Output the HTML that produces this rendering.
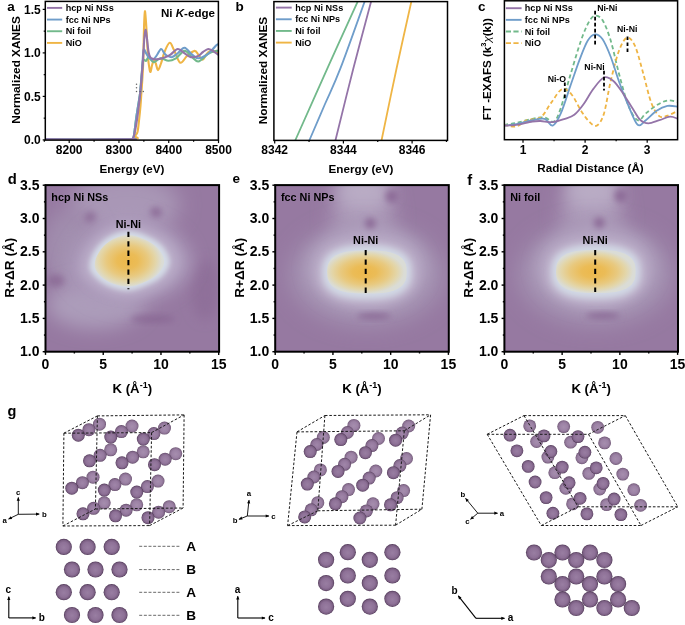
<!DOCTYPE html>
<html><head><meta charset="utf-8"><style>html,body{margin:0;padding:0;background:#fff;width:685px;height:625px;overflow:hidden}svg{display:block;will-change:transform;font-family:"Liberation Sans",sans-serif}</style></head>
<body><svg width="685" height="625" viewBox="0 0 685 625" font-family="'Liberation Sans', sans-serif" font-weight="bold"><defs>
<radialGradient id="sg" cx="0.5" cy="0.5" r="0.5" fx="0.5" fy="0.54">
 <stop offset="0" stop-color="#997ea2"/><stop offset="0.6" stop-color="#8e7197"/><stop offset="0.85" stop-color="#7a5e82"/><stop offset="0.95" stop-color="#5c4363"/><stop offset="1" stop-color="#503858"/></radialGradient>
<radialGradient id="sg1" cx="0.5" cy="0.5" r="0.5" fx="0.5" fy="0.54">
 <stop offset="0" stop-color="#a086a9"/><stop offset="0.6" stop-color="#95799e"/><stop offset="0.85" stop-color="#82678a"/><stop offset="0.95" stop-color="#684f6f"/><stop offset="1" stop-color="#5c4463"/></radialGradient>
<radialGradient id="sg2" cx="0.5" cy="0.5" r="0.5" fx="0.5" fy="0.54">
 <stop offset="0" stop-color="#a68eae"/><stop offset="0.6" stop-color="#9c82a5"/><stop offset="0.85" stop-color="#8a7091"/><stop offset="0.95" stop-color="#735a7a"/><stop offset="1" stop-color="#674f6e"/></radialGradient>
<radialGradient id="yg" cx="0.47" cy="0.5" r="0.5"><stop offset="0" stop-color="#ecb84b"/><stop offset="0.3" stop-color="#ebbc57"/><stop offset="0.6" stop-color="#e8c97f"/><stop offset="0.82" stop-color="#e3d6aa"/><stop offset="1" stop-color="#dadcd6"/></radialGradient>
<clipPath id="clipa"><rect x="45.3" y="1.4" width="173.1" height="138.7"/></clipPath>
<clipPath id="clipb"><rect x="273.9" y="1.6" width="173.6" height="138.8"/></clipPath>
<clipPath id="clipc"><rect x="504.4" y="0.8" width="173.2" height="138.9"/></clipPath>
<clipPath id="cliph0"><rect x="45.5" y="184.8" width="173.6" height="166.7"/></clipPath>
<clipPath id="cliph1"><rect x="275.2" y="184.8" width="173.6" height="166.7"/></clipPath>
<clipPath id="cliph2"><rect x="504.4" y="184.8" width="173.6" height="166.7"/></clipPath>
<filter id="b8" x="-50%" y="-50%" width="200%" height="200%"><feGaussianBlur stdDeviation="8"/></filter>
<filter id="b5" x="-50%" y="-50%" width="200%" height="200%"><feGaussianBlur stdDeviation="5"/></filter>
<filter id="b3" x="-50%" y="-50%" width="200%" height="200%"><feGaussianBlur stdDeviation="3"/></filter>
<filter id="b7" x="-50%" y="-50%" width="200%" height="200%"><feGaussianBlur stdDeviation="7"/></filter><filter id="b12" x="-50%" y="-50%" width="200%" height="200%"><feGaussianBlur stdDeviation="12"/></filter><filter id="b14" x="-50%" y="-50%" width="200%" height="200%"><feGaussianBlur stdDeviation="14"/></filter><filter id="b10" x="-50%" y="-50%" width="200%" height="200%"><feGaussianBlur stdDeviation="10"/></filter><filter id="b9" x="-50%" y="-50%" width="200%" height="200%"><feGaussianBlur stdDeviation="9"/></filter><filter id="b6" x="-50%" y="-50%" width="200%" height="200%"><feGaussianBlur stdDeviation="6"/></filter><filter id="b4" x="-50%" y="-50%" width="200%" height="200%"><feGaussianBlur stdDeviation="4"/></filter><filter id="b2.5" x="-50%" y="-50%" width="200%" height="200%"><feGaussianBlur stdDeviation="2.5"/></filter><g id="heat0"><ellipse cx="125" cy="205" rx="55" ry="30" fill="#a997b6" filter="url(#b10)" opacity="1"/><ellipse cx="70" cy="250" rx="28" ry="40" fill="#a18eae" filter="url(#b10)" opacity="1"/><ellipse cx="95" cy="305" rx="48" ry="24" fill="#ac9cba" filter="url(#b9)" opacity="1"/><ellipse cx="155.8" cy="212.9" rx="6" ry="6" fill="#8c6b97" filter="url(#b3)" opacity="1"/><ellipse cx="90.4" cy="217.8" rx="6" ry="6" fill="#8f6f9a" filter="url(#b3)" opacity="1"/><ellipse cx="56" cy="280.5" rx="9" ry="6" fill="#8e6e99" filter="url(#b3)" opacity="1"/><ellipse cx="153" cy="319" rx="22" ry="4" fill="#8b6a96" filter="url(#b3)" opacity="1"/><ellipse cx="205" cy="290" rx="14" ry="30" fill="#8f6f9a" filter="url(#b6)" opacity="1"/><path d="M128.0,214.2 C137.3,214.2 148.1,218.1 156.9,221.9 C165.7,225.7 174.8,230.7 180.7,237.2 C186.6,243.7 192.3,253.3 192.6,261.0 C192.9,268.6 187.8,277.0 182.4,283.1 C177.0,289.2 169.4,293.6 160.3,297.6 C151.2,301.5 139.1,306.8 128.0,306.9 C117.0,307.0 103.3,302.9 94.0,298.4 C84.7,293.9 76.0,285.9 71.9,279.7 C67.8,273.5 67.9,267.8 69.3,261.0 C70.8,254.2 75.2,245.4 80.4,238.9 C85.6,232.4 92.9,226.0 100.8,221.9 C108.7,217.8 118.7,214.2 128.0,214.2Z" fill="#ab9aba" filter="url(#b8)" opacity="1"/><path d="M128.0,223.9 C135.4,223.9 144.0,226.9 150.9,229.9 C157.9,233.0 165.1,236.9 169.8,242.1 C174.6,247.3 179.1,254.9 179.3,261.0 C179.5,267.1 175.5,273.7 171.2,278.6 C166.9,283.4 160.8,286.9 153.7,290.0 C146.5,293.2 136.8,297.3 128.0,297.4 C119.2,297.6 108.4,294.3 101.0,290.7 C93.6,287.1 86.7,280.8 83.4,275.9 C80.2,270.9 80.3,266.4 81.4,261.0 C82.5,255.6 86.0,248.6 90.2,243.4 C94.4,238.3 100.1,233.2 106.4,229.9 C112.7,226.7 120.6,223.9 128.0,223.9Z" fill="#b9abc7" filter="url(#b5)" opacity="1"/><path d="M128.0,230.8 C134.1,230.8 141.0,233.2 146.7,235.7 C152.4,238.2 158.2,241.4 162.1,245.6 C165.9,249.8 169.6,256.1 169.8,261.0 C170.0,265.9 166.7,271.4 163.2,275.3 C159.7,279.2 154.8,282.1 148.9,284.6 C143.0,287.2 135.2,290.6 128.0,290.7 C120.8,290.8 112.0,288.1 106.0,285.2 C100.0,282.3 94.4,277.1 91.7,273.1 C89.0,269.1 89.1,265.4 90.0,261.0 C91.0,256.6 93.8,250.9 97.2,246.7 C100.6,242.5 105.3,238.4 110.4,235.7 C115.5,233.0 122.0,230.8 128.0,230.8Z" fill="#d4dbe6" filter="url(#b2.5)" opacity="1"/><path d="M128.0,234.9 C133.2,234.9 139.2,237.0 144.2,239.2 C149.1,241.3 154.1,244.1 157.4,247.7 C160.8,251.3 163.9,256.7 164.1,261.0 C164.3,265.3 161.4,269.9 158.4,273.4 C155.4,276.8 151.1,279.2 146.1,281.4 C141.0,283.6 134.2,286.6 128.0,286.6 C121.8,286.7 114.2,284.4 109.0,281.9 C103.8,279.4 98.9,274.9 96.7,271.4 C94.4,268.0 94.4,264.8 95.2,261.0 C96.0,257.2 98.5,252.3 101.4,248.7 C104.3,245.0 108.4,241.4 112.8,239.2 C117.2,236.9 122.8,234.9 128.0,234.9Z" fill="url(#yg)" filter="url(#b2.2)" opacity="1"/></g><g id="heat1"><ellipse cx="362.9" cy="216.8" rx="30" ry="52" fill="#ad9cba" filter="url(#b10)" opacity="1"/><ellipse cx="363.9" cy="191.8" rx="26" ry="16" fill="#b9acc5" filter="url(#b8)" opacity="1"/><ellipse cx="366.9" cy="274.8" rx="78" ry="52" fill="#a390b0" filter="url(#b10)" opacity="1"/><ellipse cx="366.9" cy="268.8" rx="60" ry="42" fill="#b3a4c1" filter="url(#b7)" opacity="1"/><ellipse cx="370.4" cy="223.3" rx="5.5" ry="5.5" fill="#8c6b97" filter="url(#b3)" opacity="1"/><ellipse cx="391.9" cy="196.3" rx="6.5" ry="6.5" fill="#8d6c98" filter="url(#b3)" opacity="1"/><ellipse cx="373.9" cy="316.3" rx="17" ry="3.2" fill="#8b6a96" filter="url(#b3)" opacity="1"/><path d="M416.9,272.3 L416.5,278.2 L415.5,282.7 L413.7,286.7 L411.3,290.3 L408.1,293.5 L404.4,296.3 L400.0,298.7 L395.0,300.7 L389.4,302.3 L383.1,303.4 L376.1,304.1 L366.9,304.3 L357.7,304.1 L350.7,303.4 L344.4,302.3 L338.8,300.7 L333.8,298.7 L329.4,296.3 L325.7,293.5 L322.5,290.3 L320.1,286.7 L318.3,282.7 L317.3,278.2 L316.9,272.3 L317.3,266.4 L318.3,261.9 L320.1,257.9 L322.5,254.3 L325.7,251.1 L329.4,248.3 L333.8,245.9 L338.8,243.9 L344.4,242.3 L350.7,241.2 L357.7,240.5 L366.9,240.3 L376.1,240.5 L383.1,241.2 L389.4,242.3 L395.0,243.9 L400.0,245.9 L404.4,248.3 L408.1,251.1 L411.3,254.3 L413.7,257.9 L415.5,261.9 L416.5,266.4Z" fill="#bfb3cc" filter="url(#b4)" opacity="1"/><path d="M411.4,272.3 L411.1,277.6 L410.2,281.5 L408.7,284.8 L406.6,287.8 L403.9,290.5 L400.6,292.8 L396.8,294.7 L392.5,296.4 L387.5,297.6 L382.0,298.6 L375.6,299.1 L366.9,299.3 L358.2,299.1 L351.8,298.6 L346.3,297.6 L341.3,296.4 L337.0,294.7 L333.2,292.8 L329.9,290.5 L327.2,287.8 L325.1,284.8 L323.6,281.5 L322.7,277.6 L322.4,272.3 L322.7,267.0 L323.6,263.1 L325.1,259.8 L327.2,256.8 L329.9,254.1 L333.2,251.8 L337.0,249.9 L341.3,248.2 L346.3,247.0 L351.8,246.0 L358.2,245.5 L366.9,245.3 L375.6,245.5 L382.0,246.0 L387.5,247.0 L392.5,248.2 L396.8,249.9 L400.6,251.8 L403.9,254.1 L406.6,256.8 L408.7,259.8 L410.2,263.1 L411.1,267.0Z" fill="#d2d9e5" filter="url(#b3)" opacity="1"/><path d="M406.7,272.0 L406.4,276.8 L405.7,279.9 L404.4,282.6 L402.7,284.9 L400.4,287.0 L397.7,288.7 L394.5,290.2 L390.7,291.4 L386.4,292.4 L381.5,293.1 L375.7,293.5 L366.9,293.6 L358.1,293.5 L352.3,293.1 L347.4,292.4 L343.1,291.4 L339.3,290.2 L336.1,288.7 L333.4,287.0 L331.1,284.9 L329.4,282.6 L328.1,279.9 L327.4,276.8 L327.1,272.0 L327.4,267.2 L328.1,264.1 L329.4,261.4 L331.1,259.1 L333.4,257.0 L336.1,255.3 L339.3,253.8 L343.1,252.6 L347.4,251.6 L352.3,250.9 L358.1,250.5 L366.9,250.4 L375.7,250.5 L381.5,250.9 L386.4,251.6 L390.7,252.6 L394.5,253.8 L397.7,255.3 L400.4,257.0 L402.7,259.1 L404.4,261.4 L405.7,264.1 L406.4,267.2Z" fill="url(#yg)" filter="url(#b2.2)" opacity="1"/></g><g id="heat2"><ellipse cx="591.8" cy="216.3" rx="30" ry="52" fill="#ad9cba" filter="url(#b10)" opacity="1"/><ellipse cx="592.8" cy="191.3" rx="26" ry="16" fill="#b9acc5" filter="url(#b8)" opacity="1"/><ellipse cx="595.8" cy="274.3" rx="78" ry="52" fill="#a390b0" filter="url(#b10)" opacity="1"/><ellipse cx="595.8" cy="268.3" rx="60" ry="42" fill="#b3a4c1" filter="url(#b7)" opacity="1"/><ellipse cx="599.3" cy="222.8" rx="5.5" ry="5.5" fill="#8c6b97" filter="url(#b3)" opacity="1"/><ellipse cx="620.8" cy="195.8" rx="6.5" ry="6.5" fill="#8d6c98" filter="url(#b3)" opacity="1"/><ellipse cx="602.8" cy="315.8" rx="17" ry="3.2" fill="#8b6a96" filter="url(#b3)" opacity="1"/><path d="M645.8,271.8 L645.4,277.7 L644.4,282.2 L642.6,286.2 L640.2,289.8 L637.0,293.0 L633.3,295.8 L628.9,298.2 L623.9,300.2 L618.3,301.8 L612.0,302.9 L605.0,303.6 L595.8,303.8 L586.6,303.6 L579.6,302.9 L573.3,301.8 L567.7,300.2 L562.7,298.2 L558.3,295.8 L554.6,293.0 L551.4,289.8 L549.0,286.2 L547.2,282.2 L546.2,277.7 L545.8,271.8 L546.2,265.9 L547.2,261.4 L549.0,257.4 L551.4,253.8 L554.6,250.6 L558.3,247.8 L562.7,245.4 L567.7,243.4 L573.3,241.8 L579.6,240.7 L586.6,240.0 L595.8,239.8 L605.0,240.0 L612.0,240.7 L618.3,241.8 L623.9,243.4 L628.9,245.4 L633.3,247.8 L637.0,250.6 L640.2,253.8 L642.6,257.4 L644.4,261.4 L645.4,265.9Z" fill="#bfb3cc" filter="url(#b4)" opacity="1"/><path d="M640.3,271.8 L640.0,277.1 L639.1,281.0 L637.6,284.3 L635.5,287.3 L632.8,290.0 L629.5,292.3 L625.7,294.2 L621.4,295.9 L616.4,297.1 L610.9,298.1 L604.5,298.6 L595.8,298.8 L587.1,298.6 L580.7,298.1 L575.2,297.1 L570.2,295.9 L565.9,294.2 L562.1,292.3 L558.8,290.0 L556.1,287.3 L554.0,284.3 L552.5,281.0 L551.6,277.1 L551.3,271.8 L551.6,266.5 L552.5,262.6 L554.0,259.3 L556.1,256.3 L558.8,253.6 L562.1,251.3 L565.9,249.4 L570.2,247.7 L575.2,246.5 L580.7,245.5 L587.1,245.0 L595.8,244.8 L604.5,245.0 L610.9,245.5 L616.4,246.5 L621.4,247.7 L625.7,249.4 L629.5,251.3 L632.8,253.6 L635.5,256.3 L637.6,259.3 L639.1,262.6 L640.0,266.5Z" fill="#d2d9e5" filter="url(#b3)" opacity="1"/><path d="M635.6,271.5 L635.3,276.3 L634.6,279.4 L633.3,282.1 L631.6,284.4 L629.3,286.5 L626.6,288.2 L623.4,289.7 L619.6,290.9 L615.3,291.9 L610.4,292.6 L604.6,293.0 L595.8,293.1 L587.0,293.0 L581.2,292.6 L576.3,291.9 L572.0,290.9 L568.2,289.7 L565.0,288.2 L562.3,286.5 L560.0,284.4 L558.3,282.1 L557.0,279.4 L556.3,276.3 L556.0,271.5 L556.3,266.7 L557.0,263.6 L558.3,260.9 L560.0,258.6 L562.3,256.5 L565.0,254.8 L568.2,253.3 L572.0,252.1 L576.3,251.1 L581.2,250.4 L587.0,250.0 L595.8,249.9 L604.6,250.0 L610.4,250.4 L615.3,251.1 L619.6,252.1 L623.4,253.3 L626.6,254.8 L629.3,256.5 L631.6,258.6 L633.3,260.9 L634.6,263.6 L635.3,266.7Z" fill="url(#yg)" filter="url(#b2.2)" opacity="1"/></g></defs><rect width="685" height="625" fill="#fff"/><g clip-path="url(#clipa)">
<path d="M45.0,139.4 C59.2,139.4 115.0,140.0 130.0,139.4 C145.0,138.8 133.6,137.2 134.8,136.0 C136.1,134.8 136.8,134.9 137.5,132.1 C138.2,129.3 138.7,123.4 139.2,119.0 C139.7,114.6 140.1,110.3 140.5,105.9 C140.9,101.5 141.0,98.3 141.4,92.8 C141.8,87.3 142.4,78.6 142.7,73.1 C143.0,67.6 143.1,68.0 143.3,60.0 C143.5,52.0 143.8,33.1 144.1,25.0 C144.4,16.9 144.6,11.7 144.9,11.2 C145.2,10.7 145.7,18.0 146.0,22.0 C146.3,26.0 146.5,29.1 146.8,35.0 C147.1,40.9 147.6,51.8 148.0,57.1 C148.4,62.4 148.8,64.5 149.2,67.0 C149.6,69.5 150.0,72.3 150.5,72.0 C151.0,71.7 151.5,67.0 152.1,65.0 C152.7,63.0 153.2,60.5 153.8,60.2 C154.4,60.0 155.1,61.9 155.8,63.5 C156.5,65.2 157.1,70.1 158.0,70.1 C158.9,70.1 159.9,66.5 161.0,63.5 C162.1,60.5 163.1,55.5 164.5,52.0 C165.9,48.5 168.1,43.1 169.7,42.8 C171.3,42.5 172.2,46.7 174.0,50.0 C175.8,53.3 178.1,61.7 180.3,62.7 C182.5,63.7 184.6,58.0 187.0,56.0 C189.4,54.0 192.7,51.1 194.6,50.9 C196.5,50.7 197.2,53.5 198.5,55.0 C199.8,56.5 201.3,59.6 202.6,59.6 C203.8,59.6 204.9,56.4 206.0,55.0 C207.1,53.6 208.2,52.2 209.4,51.5 C210.6,50.8 211.5,50.8 213.0,51.0 C214.5,51.2 217.6,52.7 218.5,53.0" fill="none" stroke="#efb545" stroke-width="2.1" stroke-linejoin="round"/>
<path d="M45.0,139.4 C58.8,139.4 113.3,139.6 128.0,139.4 C142.7,139.2 131.8,139.6 132.9,138.4 C134.0,137.2 133.9,135.3 134.4,132.1 C134.9,128.9 135.5,123.4 136.1,119.0 C136.7,114.6 137.4,110.3 138.1,105.9 C138.8,101.5 139.5,98.3 140.1,92.8 C140.7,87.3 141.3,78.4 141.8,73.1 C142.3,67.8 142.6,63.2 142.9,61.0 C143.2,58.8 143.1,59.6 143.7,59.6 C144.2,59.6 145.4,61.2 146.2,60.8 C147.0,60.4 147.4,56.9 148.6,57.1 C149.8,57.3 151.6,61.9 153.6,62.1 C155.6,62.3 157.9,58.5 160.4,58.3 C162.9,58.1 165.9,60.8 168.5,60.8 C171.1,60.8 173.2,59.9 175.9,58.3 C178.6,56.6 181.9,51.1 184.6,50.9 C187.3,50.7 189.8,55.3 192.1,57.1 C194.4,58.9 195.8,61.9 198.3,61.5 C200.8,61.1 204.7,56.2 207.0,54.6 C209.3,53.0 210.1,52.7 212.0,52.0 C213.9,51.3 217.4,50.8 218.5,50.5" fill="none" stroke="#72b98b" stroke-width="2.1" stroke-linejoin="round"/>
<path d="M45.0,139.4 C58.8,139.4 113.3,139.6 128.0,139.4 C142.7,139.2 131.8,139.6 132.9,138.4 C134.0,137.2 133.9,135.3 134.4,132.1 C134.9,128.9 135.5,123.4 136.1,119.0 C136.7,114.6 137.4,110.3 138.1,105.9 C138.8,101.5 139.5,98.3 140.1,92.8 C140.7,87.3 141.4,78.6 141.8,73.1 C142.2,67.6 142.4,63.9 142.7,60.0 C143.0,56.1 143.1,50.8 143.7,49.7 C144.3,48.6 145.4,52.2 146.2,53.4 C147.0,54.6 147.5,56.1 148.6,57.1 C149.7,58.1 151.6,60.0 153.0,59.6 C154.4,59.2 155.7,56.8 157.0,55.0 C158.3,53.2 159.8,49.2 161.1,49.0 C162.3,48.8 163.5,52.4 164.5,53.5 C165.5,54.6 166.0,55.3 167.3,55.9 C168.6,56.5 170.4,57.6 172.2,57.1 C174.0,56.6 175.9,54.5 178.0,53.0 C180.1,51.5 182.2,47.5 184.6,47.8 C186.9,48.1 189.8,52.9 192.1,54.6 C194.4,56.4 195.8,58.3 198.3,58.3 C200.8,58.3 204.7,56.0 207.0,54.6 C209.3,53.2 210.4,51.5 212.0,50.0 C213.6,48.5 215.2,46.3 216.3,45.3 C217.4,44.3 218.1,44.2 218.5,44.0" fill="none" stroke="#6f9dca" stroke-width="2.1" stroke-linejoin="round"/>
<path d="M45.0,139.4 C58.8,139.4 113.3,139.6 128.0,139.4 C142.7,139.2 131.8,139.6 132.9,138.4 C134.0,137.2 134.1,135.3 134.8,132.1 C135.5,128.9 136.4,123.4 137.1,119.0 C137.8,114.6 138.3,110.3 138.8,105.9 C139.3,101.5 139.8,98.3 140.3,92.8 C140.8,87.3 141.6,78.6 142.0,73.1 C142.4,67.6 142.6,65.5 143.0,60.0 C143.4,54.5 143.8,45.0 144.2,40.0 C144.6,35.0 145.1,30.1 145.5,29.8 C145.9,29.5 146.4,34.3 146.9,38.0 C147.4,41.7 148.0,49.0 148.6,52.2 C149.2,55.5 149.7,56.4 150.5,57.5 C151.3,58.6 152.5,58.7 153.6,59.0 C154.7,59.3 155.6,59.4 157.0,59.3 C158.4,59.2 160.2,59.0 162.3,58.3 C164.4,57.6 167.1,56.8 169.7,55.2 C172.3,53.7 175.3,49.3 177.8,49.0 C180.3,48.7 182.4,52.0 184.6,53.4 C186.8,54.8 188.5,56.7 190.8,57.1 C193.1,57.5 196.3,56.8 198.3,55.9 C200.3,55.0 201.3,53.1 203.0,52.0 C204.7,50.9 206.5,49.2 208.2,49.0 C209.9,48.8 211.3,50.0 213.0,51.0 C214.7,52.0 217.6,54.3 218.5,55.0" fill="none" stroke="#9474a8" stroke-width="2.1" stroke-linejoin="round"/>
</g>
<circle cx="136.5" cy="84.2" r="0.75" fill="#666"/>
<circle cx="136.5" cy="87.8" r="0.75" fill="#666"/>
<circle cx="136.5" cy="91.5" r="0.75" fill="#666"/>
<circle cx="140.1" cy="91.5" r="0.75" fill="#666"/>
<circle cx="143.3" cy="91.5" r="0.75" fill="#666"/>
<rect x="45.3" y="1.4" width="173.10000000000002" height="138.7" fill="none" stroke="#000" stroke-width="1.5"/>
<line x1="42.699999999999996" y1="139.9" x2="45.3" y2="139.9" stroke="#000" stroke-width="1.2" />
<line x1="43.699999999999996" y1="118.15" x2="45.3" y2="118.15" stroke="#000" stroke-width="1.2" />
<line x1="42.699999999999996" y1="96.4" x2="45.3" y2="96.4" stroke="#000" stroke-width="1.2" />
<line x1="43.699999999999996" y1="74.65" x2="45.3" y2="74.65" stroke="#000" stroke-width="1.2" />
<line x1="42.699999999999996" y1="52.900000000000006" x2="45.3" y2="52.900000000000006" stroke="#000" stroke-width="1.2" />
<line x1="43.699999999999996" y1="31.150000000000006" x2="45.3" y2="31.150000000000006" stroke="#000" stroke-width="1.2" />
<line x1="42.699999999999996" y1="9.400000000000006" x2="45.3" y2="9.400000000000006" stroke="#000" stroke-width="1.2" />
<text x="40.8" y="144.1" font-size="12" text-anchor="end" >0.0</text>
<text x="40.8" y="100.60000000000001" font-size="12" text-anchor="end" >0.5</text>
<text x="40.8" y="57.10000000000001" font-size="12" text-anchor="end" >1.0</text>
<text x="40.8" y="13.600000000000005" font-size="12" text-anchor="end" >1.5</text>
<line x1="44.315000000000005" y1="140.1" x2="44.315000000000005" y2="141.7" stroke="#000" stroke-width="1.2" />
<line x1="69.2" y1="140.1" x2="69.2" y2="143.1" stroke="#000" stroke-width="1.2" />
<line x1="94.08500000000001" y1="140.1" x2="94.08500000000001" y2="141.7" stroke="#000" stroke-width="1.2" />
<line x1="118.97" y1="140.1" x2="118.97" y2="143.1" stroke="#000" stroke-width="1.2" />
<line x1="143.85500000000002" y1="140.1" x2="143.85500000000002" y2="141.7" stroke="#000" stroke-width="1.2" />
<line x1="168.74" y1="140.1" x2="168.74" y2="143.1" stroke="#000" stroke-width="1.2" />
<line x1="193.625" y1="140.1" x2="193.625" y2="141.7" stroke="#000" stroke-width="1.2" />
<line x1="218.51" y1="140.1" x2="218.51" y2="143.1" stroke="#000" stroke-width="1.2" />
<text x="69.2" y="154.3" font-size="12" text-anchor="middle" >8200</text>
<text x="118.97" y="154.3" font-size="12" text-anchor="middle" >8300</text>
<text x="168.74" y="154.3" font-size="12" text-anchor="middle" >8400</text>
<text x="218.51" y="154.3" font-size="12" text-anchor="middle" >8500</text>
<text x="132" y="173.3" font-size="11.7" text-anchor="middle" >Energy (eV)</text>
<text transform="translate(20.3,70) rotate(-90)" font-size="11.8" text-anchor="middle">Normalized XANES</text>
<line x1="47" y1="7.9" x2="62.2" y2="7.9" stroke="#9474a8" stroke-width="1.9" />
<text x="65.7" y="11.100000000000001" font-size="9.1" text-anchor="start" >hcp Ni NSs</text>
<line x1="47" y1="19.57" x2="62.2" y2="19.57" stroke="#6f9dca" stroke-width="1.9" />
<text x="65.7" y="22.77" font-size="9.1" text-anchor="start" >fcc Ni NPs</text>
<line x1="47" y1="31.240000000000002" x2="62.2" y2="31.240000000000002" stroke="#72b98b" stroke-width="1.9" />
<text x="65.7" y="34.440000000000005" font-size="9.1" text-anchor="start" >Ni foil</text>
<line x1="47" y1="42.91" x2="62.2" y2="42.91" stroke="#efb545" stroke-width="1.9" />
<text x="65.7" y="46.11" font-size="9.1" text-anchor="start" >NiO</text>
<text x="215" y="17" font-size="11.6" text-anchor="end">Ni <tspan font-style="italic">K</tspan>-edge</text>
<g clip-path="url(#clipb)">
<path d="M295.2,140.5 C300.6,128.4 317.0,91.6 327.5,68.2 C338.0,44.8 353.2,11.4 358.4,0.0" fill="none" stroke="#72b98b" stroke-width="1.8" stroke-linejoin="round"/>
<path d="M309.3,140.5 C311.9,134.4 319.8,116.0 325.0,104.0 C330.2,92.0 333.8,85.5 340.5,68.2 C347.2,50.9 361.1,11.4 365.2,0.0" fill="none" stroke="#6f9dca" stroke-width="1.8" stroke-linejoin="round"/>
<path d="M335.4,140.5 C338.4,128.4 347.4,91.6 353.4,68.2 C359.4,44.8 368.5,11.4 371.5,0.0" fill="none" stroke="#9474a8" stroke-width="1.8" stroke-linejoin="round"/>
<path d="M381.5,140.5 C384.0,128.4 391.6,91.6 396.6,68.2 C401.6,44.8 409.2,11.4 411.7,0.0" fill="none" stroke="#efb545" stroke-width="1.8" stroke-linejoin="round"/>
</g>
<rect x="273.9" y="1.6" width="173.60000000000002" height="138.8" fill="none" stroke="#000" stroke-width="1.5"/>
<line x1="274.7" y1="140.4" x2="274.7" y2="143.4" stroke="#000" stroke-width="1.2" />
<line x1="309.05" y1="140.4" x2="309.05" y2="142.0" stroke="#000" stroke-width="1.2" />
<line x1="343.4" y1="140.4" x2="343.4" y2="143.4" stroke="#000" stroke-width="1.2" />
<line x1="377.75" y1="140.4" x2="377.75" y2="142.0" stroke="#000" stroke-width="1.2" />
<line x1="412.1" y1="140.4" x2="412.1" y2="143.4" stroke="#000" stroke-width="1.2" />
<line x1="446.45" y1="140.4" x2="446.45" y2="142.0" stroke="#000" stroke-width="1.2" />
<text x="274.7" y="154.3" font-size="12" text-anchor="middle" >8342</text>
<text x="343.4" y="154.3" font-size="12" text-anchor="middle" >8344</text>
<text x="412.1" y="154.3" font-size="12" text-anchor="middle" >8346</text>
<text x="361" y="173.3" font-size="11.7" text-anchor="middle" >Energy (eV)</text>
<text transform="translate(266.6,70.6) rotate(-90)" font-size="11.8" text-anchor="middle">Normalized XANES</text>
<line x1="275.9" y1="7.6" x2="291.7" y2="7.6" stroke="#9474a8" stroke-width="1.9" />
<text x="295.2" y="10.8" font-size="9.1" text-anchor="start" >hcp Ni NSs</text>
<line x1="275.9" y1="19.27" x2="291.7" y2="19.27" stroke="#6f9dca" stroke-width="1.9" />
<text x="295.2" y="22.47" font-size="9.1" text-anchor="start" >fcc Ni NPs</text>
<line x1="275.9" y1="30.939999999999998" x2="291.7" y2="30.939999999999998" stroke="#72b98b" stroke-width="1.9" />
<text x="295.2" y="34.14" font-size="9.1" text-anchor="start" >Ni foil</text>
<line x1="275.9" y1="42.61" x2="291.7" y2="42.61" stroke="#efb545" stroke-width="1.9" />
<text x="295.2" y="45.81" font-size="9.1" text-anchor="start" >NiO</text>
<g clip-path="url(#clipc)">
<path d="M504.0,124.8 C506.0,124.5 511.5,123.9 516.2,122.9 C520.9,121.9 527.7,119.7 532.4,118.8 C537.1,117.9 541.0,117.0 544.6,117.5 C548.2,118.0 551.3,123.1 554.0,121.5 C556.7,119.9 558.1,115.7 560.8,108.0 C563.5,100.3 566.8,86.8 570.2,75.6 C573.6,64.3 577.9,49.5 581.0,40.5 C584.1,31.5 586.8,25.7 589.1,21.6 C591.5,17.5 592.9,15.9 595.1,15.7 C597.4,15.5 600.0,16.2 602.6,20.3 C605.2,24.4 608.0,31.7 610.7,40.5 C613.4,49.3 615.9,62.1 618.8,72.9 C621.7,83.7 625.1,97.4 628.3,105.3 C631.4,113.2 634.8,118.8 637.7,120.2 C640.6,121.6 642.6,115.9 645.8,113.4 C648.9,110.9 653.0,107.5 656.6,105.3 C660.2,103.1 663.8,101.0 667.4,100.5 C671.0,100.0 676.2,101.8 678.0,102.1" fill="none" stroke="#72b98b" stroke-width="1.8" stroke-linejoin="round" stroke-dasharray="4.2,2.8"/>
<path d="M504.0,124.8 C506.0,125.1 512.4,127.2 516.2,126.4 C520.0,125.6 523.0,121.7 527.0,120.2 C531.0,118.7 536.5,120.4 540.5,117.5 C544.5,114.6 547.7,107.3 551.3,102.6 C554.9,97.9 558.7,90.4 562.1,89.1 C565.5,87.8 568.5,90.9 571.6,94.5 C574.8,98.1 578.1,106.2 581.0,110.7 C583.9,115.2 586.5,119.0 589.1,121.5 C591.7,124.0 594.2,126.9 596.7,125.6 C599.2,124.2 601.7,120.8 604.0,113.4 C606.3,106.0 608.2,91.3 610.7,81.0 C613.2,70.7 616.1,58.5 618.8,51.3 C621.5,44.1 624.2,38.7 626.9,37.8 C629.6,36.9 632.3,40.0 635.0,45.9 C637.7,51.8 640.4,63.5 643.1,72.9 C645.8,82.4 648.5,95.4 651.2,102.6 C653.9,109.8 656.6,113.9 659.3,116.1 C662.0,118.3 664.3,116.5 667.4,115.6 C670.5,114.7 676.2,111.5 678.0,110.7" fill="none" stroke="#efb545" stroke-width="1.8" stroke-linejoin="round" stroke-dasharray="4.2,2.8"/>
<path d="M504.0,125.6 C506.0,125.4 511.5,125.1 516.2,124.2 C520.9,123.3 527.7,121.1 532.4,120.2 C537.1,119.3 541.2,117.9 544.6,118.8 C548.0,119.7 550.0,126.5 552.7,125.6 C555.4,124.7 557.9,119.9 560.8,113.4 C563.7,106.9 567.1,95.4 570.2,86.4 C573.4,77.4 576.8,67.0 579.7,59.4 C582.6,51.8 585.2,44.7 587.8,40.5 C590.4,36.3 592.6,34.5 595.1,34.3 C597.6,34.1 600.0,35.5 602.6,39.2 C605.2,42.9 608.0,49.7 610.7,56.7 C613.4,63.7 615.9,72.9 618.8,81.0 C621.7,89.1 625.1,98.0 628.3,105.3 C631.4,112.6 634.8,122.3 637.7,124.8 C640.6,127.3 642.6,122.5 645.8,120.2 C648.9,117.9 653.0,113.1 656.6,110.7 C660.2,108.3 663.8,106.6 667.4,105.9 C671.0,105.2 676.2,106.6 678.0,106.7" fill="none" stroke="#6f9dca" stroke-width="1.8" stroke-linejoin="round"/>
<path d="M504.0,125.6 C506.0,125.5 511.5,125.5 516.2,124.8 C520.9,124.1 528.4,122.1 532.4,121.5 C536.4,120.9 537.1,120.9 540.5,121.0 C543.9,121.1 548.7,122.5 552.7,122.1 C556.8,121.7 561.2,120.0 564.8,118.8 C568.4,117.6 571.1,117.3 574.3,114.8 C577.4,112.3 580.6,108.3 583.7,104.0 C586.9,99.7 589.8,93.5 593.2,89.1 C596.6,84.7 600.6,78.8 604.0,77.5 C607.4,76.2 610.2,78.4 613.4,81.0 C616.5,83.6 619.8,88.7 622.9,93.2 C626.0,97.7 629.4,103.5 632.3,108.0 C635.2,112.5 637.7,117.6 640.4,120.2 C643.1,122.8 645.4,123.4 648.5,123.4 C651.6,123.4 655.7,121.3 659.3,120.2 C662.9,119.1 667.0,116.9 670.1,116.7 C673.2,116.5 676.7,118.5 678.0,118.8" fill="none" stroke="#9474a8" stroke-width="1.8" stroke-linejoin="round"/>
</g>
<rect x="504.4" y="0.8" width="173.20000000000005" height="138.89999999999998" fill="none" stroke="#000" stroke-width="1.5"/>
<line x1="523.0" y1="139.7" x2="523.0" y2="142.7" stroke="#000" stroke-width="1.2" />
<line x1="554.05" y1="139.7" x2="554.05" y2="141.29999999999998" stroke="#000" stroke-width="1.2" />
<line x1="585.1" y1="139.7" x2="585.1" y2="142.7" stroke="#000" stroke-width="1.2" />
<line x1="616.15" y1="139.7" x2="616.15" y2="141.29999999999998" stroke="#000" stroke-width="1.2" />
<line x1="647.2" y1="139.7" x2="647.2" y2="142.7" stroke="#000" stroke-width="1.2" />
<text x="523.0" y="153.6" font-size="12" text-anchor="middle" >1</text>
<text x="585.1" y="153.6" font-size="12" text-anchor="middle" >2</text>
<text x="647.2" y="153.6" font-size="12" text-anchor="middle" >3</text>
<text x="590.5" y="172.3" font-size="11.7" text-anchor="middle" >Radial Distance (Å)</text>
<text transform="translate(490.6,69.2) rotate(-90)" font-size="11.6" text-anchor="middle">FT -EXAFS (k<tspan font-size="7.5" dy="-4.5">3</tspan><tspan dy="4.5" font-weight="normal" font-style="italic">χ</tspan>(k))</text>
<line x1="505.8" y1="8.2" x2="521.6" y2="8.2" stroke="#9474a8" stroke-width="1.9" />
<text x="524.8" y="11.399999999999999" font-size="9.1" text-anchor="start" >hcp Ni NSs</text>
<line x1="505.8" y1="19.85" x2="521.6" y2="19.85" stroke="#6f9dca" stroke-width="1.9" />
<text x="524.8" y="23.05" font-size="9.1" text-anchor="start" >fcc Ni NPs</text>
<line x1="505.8" y1="31.5" x2="521.6" y2="31.5" stroke="#72b98b" stroke-width="1.9" stroke-dasharray="5.2,2.4"/>
<text x="524.8" y="34.7" font-size="9.1" text-anchor="start" >Ni foil</text>
<line x1="505.8" y1="43.150000000000006" x2="521.6" y2="43.150000000000006" stroke="#efb545" stroke-width="1.9" stroke-dasharray="5.2,2.4"/>
<text x="524.8" y="46.35000000000001" font-size="9.1" text-anchor="start" >NiO</text>
<line x1="595.1" y1="10.8" x2="595.1" y2="44.6" stroke="#000" stroke-width="1.8" stroke-dasharray="3.6,2.4"/>
<line x1="627.5" y1="36.5" x2="627.5" y2="53.5" stroke="#000" stroke-width="1.8" stroke-dasharray="3.6,2.4"/>
<line x1="604" y1="70.8" x2="604" y2="90.5" stroke="#000" stroke-width="1.8" stroke-dasharray="3.6,2.4"/>
<line x1="564.8" y1="82.4" x2="564.8" y2="100.5" stroke="#000" stroke-width="1.8" stroke-dasharray="3.6,2.4"/>
<text x="607.3" y="11" font-size="8.7" text-anchor="middle" >Ni-Ni</text>
<text x="627.2" y="31.8" font-size="8.7" text-anchor="middle" >Ni-Ni</text>
<text x="594.5" y="69.6" font-size="8.7" text-anchor="middle" >Ni-Ni</text>
<text x="556.8" y="81.7" font-size="8.7" text-anchor="middle" >Ni-O</text>
<text x="7.3" y="10.9" font-size="13.5" text-anchor="start" >a</text>
<text x="235.6" y="10.5" font-size="13.5" text-anchor="start" >b</text>
<text x="478.1" y="10.8" font-size="13.5" text-anchor="start" >c</text>
<text x="7.7" y="183.7" font-size="14.8" text-anchor="start" >d</text>
<text x="232.6" y="183.4" font-size="13.5" text-anchor="start" >e</text>
<text x="467.2" y="184.6" font-size="14.8" text-anchor="start" >f</text>
<text x="7.6" y="415.9" font-size="14.5" text-anchor="start" >g</text>
<g clip-path="url(#cliph0)">
<rect x="45.5" y="185.1" width="173.6" height="166.6" fill="#9679a1"/>
<use href="#heat0"/>
</g>
<rect x="45.5" y="185.1" width="173.6" height="166.6" fill="none" stroke="#000" stroke-width="2"/>
<line x1="42.7" y1="351.7" x2="45.5" y2="351.7" stroke="#000" stroke-width="1.4" />
<line x1="43.9" y1="335.05" x2="45.5" y2="335.05" stroke="#000" stroke-width="1.4" />
<line x1="42.7" y1="318.4" x2="45.5" y2="318.4" stroke="#000" stroke-width="1.4" />
<line x1="43.9" y1="301.75" x2="45.5" y2="301.75" stroke="#000" stroke-width="1.4" />
<line x1="42.7" y1="285.1" x2="45.5" y2="285.1" stroke="#000" stroke-width="1.4" />
<line x1="43.9" y1="268.45" x2="45.5" y2="268.45" stroke="#000" stroke-width="1.4" />
<line x1="42.7" y1="251.8" x2="45.5" y2="251.8" stroke="#000" stroke-width="1.4" />
<line x1="43.9" y1="235.15" x2="45.5" y2="235.15" stroke="#000" stroke-width="1.4" />
<line x1="42.7" y1="218.5" x2="45.5" y2="218.5" stroke="#000" stroke-width="1.4" />
<line x1="43.9" y1="201.85" x2="45.5" y2="201.85" stroke="#000" stroke-width="1.4" />
<line x1="42.7" y1="185.2" x2="45.5" y2="185.2" stroke="#000" stroke-width="1.4" />
<text transform="translate(39.5,356.2) scale(1.0,1.08)" font-size="14" text-anchor="end">1.0</text>
<text transform="translate(39.5,322.9) scale(1.0,1.08)" font-size="14" text-anchor="end">1.5</text>
<text transform="translate(39.5,289.6) scale(1.0,1.08)" font-size="14" text-anchor="end">2.0</text>
<text transform="translate(39.5,256.3) scale(1.0,1.08)" font-size="14" text-anchor="end">2.5</text>
<text transform="translate(39.5,223.0) scale(1.0,1.08)" font-size="14" text-anchor="end">3.0</text>
<text transform="translate(39.5,189.7) scale(1.0,1.08)" font-size="14" text-anchor="end">3.5</text>
<line x1="45.5" y1="351.7" x2="45.5" y2="354.9" stroke="#000" stroke-width="1.4" />
<line x1="103.23333333333332" y1="351.7" x2="103.23333333333332" y2="354.9" stroke="#000" stroke-width="1.4" />
<line x1="160.96666666666664" y1="351.7" x2="160.96666666666664" y2="354.9" stroke="#000" stroke-width="1.4" />
<line x1="218.7" y1="351.7" x2="218.7" y2="354.9" stroke="#000" stroke-width="1.4" />
<line x1="74.36666666666666" y1="351.7" x2="74.36666666666666" y2="353.5" stroke="#000" stroke-width="1.4" />
<line x1="132.1" y1="351.7" x2="132.1" y2="353.5" stroke="#000" stroke-width="1.4" />
<line x1="189.83333333333331" y1="351.7" x2="189.83333333333331" y2="353.5" stroke="#000" stroke-width="1.4" />
<text transform="translate(45.5,369.2) scale(1.0,1.08)" font-size="14" text-anchor="middle">0</text>
<text transform="translate(103.2,369.2) scale(1.0,1.08)" font-size="14" text-anchor="middle">5</text>
<text transform="translate(161.0,369.2) scale(1.0,1.08)" font-size="14" text-anchor="middle">10</text>
<text transform="translate(218.7,369.2) scale(1.0,1.08)" font-size="14" text-anchor="middle">15</text>
<text x="132.3" y="393" font-size="13.2" text-anchor="middle" >K (Å<tspan font-size="9" dy="-5">-1</tspan><tspan dy="5">)</tspan></text>
<text transform="translate(14.3,267.7) rotate(-90)" font-size="13.6" text-anchor="middle">R+ΔR (Å)</text>
<text x="51.3" y="201.3" font-size="10.8" text-anchor="start" >hcp Ni NSs</text>
<text x="128.4" y="227.6" font-size="10.8" text-anchor="middle" >Ni-Ni</text>
<line x1="128.4" y1="231.8" x2="128.4" y2="289.2" stroke="#000" stroke-width="2" stroke-dasharray="5.3,4.1"/>
<g clip-path="url(#cliph1)">
<rect x="275.2" y="185.1" width="173.59999999999997" height="166.6" fill="#9679a1"/>
<use href="#heat1"/>
</g>
<rect x="275.2" y="185.1" width="173.59999999999997" height="166.6" fill="none" stroke="#000" stroke-width="2"/>
<line x1="272.4" y1="351.7" x2="275.2" y2="351.7" stroke="#000" stroke-width="1.4" />
<line x1="273.59999999999997" y1="335.05" x2="275.2" y2="335.05" stroke="#000" stroke-width="1.4" />
<line x1="272.4" y1="318.4" x2="275.2" y2="318.4" stroke="#000" stroke-width="1.4" />
<line x1="273.59999999999997" y1="301.75" x2="275.2" y2="301.75" stroke="#000" stroke-width="1.4" />
<line x1="272.4" y1="285.1" x2="275.2" y2="285.1" stroke="#000" stroke-width="1.4" />
<line x1="273.59999999999997" y1="268.45" x2="275.2" y2="268.45" stroke="#000" stroke-width="1.4" />
<line x1="272.4" y1="251.8" x2="275.2" y2="251.8" stroke="#000" stroke-width="1.4" />
<line x1="273.59999999999997" y1="235.15" x2="275.2" y2="235.15" stroke="#000" stroke-width="1.4" />
<line x1="272.4" y1="218.5" x2="275.2" y2="218.5" stroke="#000" stroke-width="1.4" />
<line x1="273.59999999999997" y1="201.85" x2="275.2" y2="201.85" stroke="#000" stroke-width="1.4" />
<line x1="272.4" y1="185.2" x2="275.2" y2="185.2" stroke="#000" stroke-width="1.4" />
<text transform="translate(269.2,356.2) scale(1.0,1.08)" font-size="14" text-anchor="end">1.0</text>
<text transform="translate(269.2,322.9) scale(1.0,1.08)" font-size="14" text-anchor="end">1.5</text>
<text transform="translate(269.2,289.6) scale(1.0,1.08)" font-size="14" text-anchor="end">2.0</text>
<text transform="translate(269.2,256.3) scale(1.0,1.08)" font-size="14" text-anchor="end">2.5</text>
<text transform="translate(269.2,223.0) scale(1.0,1.08)" font-size="14" text-anchor="end">3.0</text>
<text transform="translate(269.2,189.7) scale(1.0,1.08)" font-size="14" text-anchor="end">3.5</text>
<line x1="275.2" y1="351.7" x2="275.2" y2="354.9" stroke="#000" stroke-width="1.4" />
<line x1="332.93333333333334" y1="351.7" x2="332.93333333333334" y2="354.9" stroke="#000" stroke-width="1.4" />
<line x1="390.66666666666663" y1="351.7" x2="390.66666666666663" y2="354.9" stroke="#000" stroke-width="1.4" />
<line x1="448.4" y1="351.7" x2="448.4" y2="354.9" stroke="#000" stroke-width="1.4" />
<line x1="304.06666666666666" y1="351.7" x2="304.06666666666666" y2="353.5" stroke="#000" stroke-width="1.4" />
<line x1="361.79999999999995" y1="351.7" x2="361.79999999999995" y2="353.5" stroke="#000" stroke-width="1.4" />
<line x1="419.5333333333333" y1="351.7" x2="419.5333333333333" y2="353.5" stroke="#000" stroke-width="1.4" />
<text transform="translate(275.2,369.2) scale(1.0,1.08)" font-size="14" text-anchor="middle">0</text>
<text transform="translate(332.9,369.2) scale(1.0,1.08)" font-size="14" text-anchor="middle">5</text>
<text transform="translate(390.7,369.2) scale(1.0,1.08)" font-size="14" text-anchor="middle">10</text>
<text transform="translate(448.4,369.2) scale(1.0,1.08)" font-size="14" text-anchor="middle">15</text>
<text x="362.0" y="393" font-size="13.2" text-anchor="middle" >K (Å<tspan font-size="9" dy="-5">-1</tspan><tspan dy="5">)</tspan></text>
<text transform="translate(244.0,267.7) rotate(-90)" font-size="13.6" text-anchor="middle">R+ΔR (Å)</text>
<text x="281.0" y="201.3" font-size="10.8" text-anchor="start" >fcc Ni NPs</text>
<text x="365.7" y="244.20000000000002" font-size="10.8" text-anchor="middle" >Ni-Ni</text>
<line x1="365.7" y1="250" x2="365.7" y2="293.3" stroke="#000" stroke-width="2" stroke-dasharray="5.3,4.1"/>
<g clip-path="url(#cliph2)">
<rect x="504.4" y="185.1" width="173.60000000000002" height="166.6" fill="#9679a1"/>
<use href="#heat2"/>
</g>
<rect x="504.4" y="185.1" width="173.60000000000002" height="166.6" fill="none" stroke="#000" stroke-width="2"/>
<line x1="501.59999999999997" y1="351.7" x2="504.4" y2="351.7" stroke="#000" stroke-width="1.4" />
<line x1="502.79999999999995" y1="335.05" x2="504.4" y2="335.05" stroke="#000" stroke-width="1.4" />
<line x1="501.59999999999997" y1="318.4" x2="504.4" y2="318.4" stroke="#000" stroke-width="1.4" />
<line x1="502.79999999999995" y1="301.75" x2="504.4" y2="301.75" stroke="#000" stroke-width="1.4" />
<line x1="501.59999999999997" y1="285.1" x2="504.4" y2="285.1" stroke="#000" stroke-width="1.4" />
<line x1="502.79999999999995" y1="268.45" x2="504.4" y2="268.45" stroke="#000" stroke-width="1.4" />
<line x1="501.59999999999997" y1="251.8" x2="504.4" y2="251.8" stroke="#000" stroke-width="1.4" />
<line x1="502.79999999999995" y1="235.15" x2="504.4" y2="235.15" stroke="#000" stroke-width="1.4" />
<line x1="501.59999999999997" y1="218.5" x2="504.4" y2="218.5" stroke="#000" stroke-width="1.4" />
<line x1="502.79999999999995" y1="201.85" x2="504.4" y2="201.85" stroke="#000" stroke-width="1.4" />
<line x1="501.59999999999997" y1="185.2" x2="504.4" y2="185.2" stroke="#000" stroke-width="1.4" />
<text transform="translate(498.4,356.2) scale(1.0,1.08)" font-size="14" text-anchor="end">1.0</text>
<text transform="translate(498.4,322.9) scale(1.0,1.08)" font-size="14" text-anchor="end">1.5</text>
<text transform="translate(498.4,289.6) scale(1.0,1.08)" font-size="14" text-anchor="end">2.0</text>
<text transform="translate(498.4,256.3) scale(1.0,1.08)" font-size="14" text-anchor="end">2.5</text>
<text transform="translate(498.4,223.0) scale(1.0,1.08)" font-size="14" text-anchor="end">3.0</text>
<text transform="translate(498.4,189.7) scale(1.0,1.08)" font-size="14" text-anchor="end">3.5</text>
<line x1="504.4" y1="351.7" x2="504.4" y2="354.9" stroke="#000" stroke-width="1.4" />
<line x1="562.1333333333333" y1="351.7" x2="562.1333333333333" y2="354.9" stroke="#000" stroke-width="1.4" />
<line x1="619.8666666666667" y1="351.7" x2="619.8666666666667" y2="354.9" stroke="#000" stroke-width="1.4" />
<line x1="677.5999999999999" y1="351.7" x2="677.5999999999999" y2="354.9" stroke="#000" stroke-width="1.4" />
<line x1="533.2666666666667" y1="351.7" x2="533.2666666666667" y2="353.5" stroke="#000" stroke-width="1.4" />
<line x1="591.0" y1="351.7" x2="591.0" y2="353.5" stroke="#000" stroke-width="1.4" />
<line x1="648.7333333333333" y1="351.7" x2="648.7333333333333" y2="353.5" stroke="#000" stroke-width="1.4" />
<text transform="translate(504.4,369.2) scale(1.0,1.08)" font-size="14" text-anchor="middle">0</text>
<text transform="translate(562.1,369.2) scale(1.0,1.08)" font-size="14" text-anchor="middle">5</text>
<text transform="translate(619.9,369.2) scale(1.0,1.08)" font-size="14" text-anchor="middle">10</text>
<text transform="translate(677.6,369.2) scale(1.0,1.08)" font-size="14" text-anchor="middle">15</text>
<text x="591.1999999999999" y="393" font-size="13.2" text-anchor="middle" >K (Å<tspan font-size="9" dy="-5">-1</tspan><tspan dy="5">)</tspan></text>
<text transform="translate(473.2,267.7) rotate(-90)" font-size="13.6" text-anchor="middle">R+ΔR (Å)</text>
<text x="510.2" y="201.3" font-size="10.8" text-anchor="start" >Ni foil</text>
<text x="595.2" y="243.6" font-size="10.8" text-anchor="middle" >Ni-Ni</text>
<line x1="595.2" y1="250" x2="595.2" y2="292" stroke="#000" stroke-width="2" stroke-dasharray="5.3,4.1"/>
<circle cx="99.5" cy="424.2" r="6.5" fill="url(#sg2)"/>
<circle cx="88.9" cy="429.7" r="6.5" fill="url(#sg1)"/>
<circle cx="78.3" cy="435.2" r="6.5" fill="url(#sg)"/>
<circle cx="132.0" cy="426.1" r="6.5" fill="url(#sg2)"/>
<circle cx="121.4" cy="431.6" r="6.5" fill="url(#sg1)"/>
<circle cx="110.8" cy="437.1" r="6.5" fill="url(#sg)"/>
<circle cx="164.5" cy="428.1" r="6.5" fill="url(#sg2)"/>
<circle cx="153.9" cy="433.6" r="6.5" fill="url(#sg1)"/>
<circle cx="143.3" cy="439.1" r="6.5" fill="url(#sg)"/>
<circle cx="110.7" cy="449.8" r="6.5" fill="url(#sg2)"/>
<circle cx="100.1" cy="455.3" r="6.5" fill="url(#sg1)"/>
<circle cx="89.5" cy="460.8" r="6.5" fill="url(#sg)"/>
<circle cx="143.2" cy="451.8" r="6.5" fill="url(#sg2)"/>
<circle cx="132.6" cy="457.2" r="6.5" fill="url(#sg1)"/>
<circle cx="122.0" cy="462.8" r="6.5" fill="url(#sg)"/>
<circle cx="175.7" cy="453.7" r="6.5" fill="url(#sg2)"/>
<circle cx="165.1" cy="459.2" r="6.5" fill="url(#sg1)"/>
<circle cx="154.5" cy="464.7" r="6.5" fill="url(#sg)"/>
<circle cx="93.0" cy="477.2" r="6.5" fill="url(#sg2)"/>
<circle cx="82.4" cy="482.7" r="6.5" fill="url(#sg1)"/>
<circle cx="71.8" cy="488.2" r="6.5" fill="url(#sg)"/>
<circle cx="125.5" cy="479.1" r="6.5" fill="url(#sg2)"/>
<circle cx="114.9" cy="484.6" r="6.5" fill="url(#sg1)"/>
<circle cx="104.3" cy="490.1" r="6.5" fill="url(#sg)"/>
<circle cx="158.0" cy="481.1" r="6.5" fill="url(#sg2)"/>
<circle cx="147.4" cy="486.6" r="6.5" fill="url(#sg1)"/>
<circle cx="136.8" cy="492.1" r="6.5" fill="url(#sg)"/>
<circle cx="104.2" cy="502.8" r="6.5" fill="url(#sg2)"/>
<circle cx="93.6" cy="508.3" r="6.5" fill="url(#sg1)"/>
<circle cx="83.0" cy="513.8" r="6.5" fill="url(#sg)"/>
<circle cx="136.7" cy="504.8" r="6.5" fill="url(#sg2)"/>
<circle cx="126.1" cy="510.2" r="6.5" fill="url(#sg1)"/>
<circle cx="115.5" cy="515.8" r="6.5" fill="url(#sg)"/>
<circle cx="169.2" cy="506.7" r="6.5" fill="url(#sg2)"/>
<circle cx="158.6" cy="512.2" r="6.5" fill="url(#sg1)"/>
<circle cx="148.0" cy="517.7" r="6.5" fill="url(#sg)"/>
<line x1="97.4" y1="415.9" x2="184.1" y2="414.9" stroke="#1a1a1a" stroke-width="1.0" stroke-dasharray="2.6,1.8"/>
<line x1="97.4" y1="415.9" x2="95.4" y2="509" stroke="#1a1a1a" stroke-width="1.0" stroke-dasharray="2.6,1.8"/>
<line x1="95.4" y1="509" x2="183.1" y2="508" stroke="#1a1a1a" stroke-width="1.0" stroke-dasharray="2.6,1.8"/>
<line x1="184.1" y1="414.9" x2="183.1" y2="508" stroke="#1a1a1a" stroke-width="1.0" stroke-dasharray="2.6,1.8"/>
<line x1="63.9" y1="433.2" x2="97.4" y2="415.9" stroke="#1a1a1a" stroke-width="1.0" stroke-dasharray="2.6,1.8"/>
<line x1="62.9" y1="526" x2="95.4" y2="509" stroke="#1a1a1a" stroke-width="1.0" stroke-dasharray="2.6,1.8"/>
<line x1="63.9" y1="433.2" x2="151.6" y2="432.6" stroke="#1a1a1a" stroke-width="1.0" stroke-dasharray="2.6,1.8"/>
<line x1="63.9" y1="433.2" x2="62.9" y2="526" stroke="#1a1a1a" stroke-width="1.0" stroke-dasharray="2.6,1.8"/>
<line x1="62.9" y1="526" x2="149.6" y2="525.6" stroke="#1a1a1a" stroke-width="1.0" stroke-dasharray="2.6,1.8"/>
<line x1="151.6" y1="432.6" x2="149.6" y2="525.6" stroke="#1a1a1a" stroke-width="1.0" stroke-dasharray="2.6,1.8"/>
<line x1="151.6" y1="432.6" x2="184.1" y2="414.9" stroke="#1a1a1a" stroke-width="1.0" stroke-dasharray="2.6,1.8"/>
<line x1="149.6" y1="525.6" x2="183.1" y2="508" stroke="#1a1a1a" stroke-width="1.0" stroke-dasharray="2.6,1.8"/>
<circle cx="323.3" cy="437.4" r="6.5" fill="url(#sg2)"/>
<circle cx="316.8" cy="444.5" r="6.5" fill="url(#sg1)"/>
<circle cx="310.2" cy="451.6" r="6.5" fill="url(#sg)"/>
<circle cx="353.9" cy="425.4" r="6.5" fill="url(#sg2)"/>
<circle cx="347.4" cy="432.5" r="6.5" fill="url(#sg1)"/>
<circle cx="340.8" cy="439.6" r="6.5" fill="url(#sg)"/>
<circle cx="378.5" cy="438.5" r="6.5" fill="url(#sg2)"/>
<circle cx="371.9" cy="445.6" r="6.5" fill="url(#sg1)"/>
<circle cx="365.4" cy="452.7" r="6.5" fill="url(#sg)"/>
<circle cx="408.7" cy="426.0" r="6.5" fill="url(#sg2)"/>
<circle cx="402.2" cy="433.1" r="6.5" fill="url(#sg1)"/>
<circle cx="395.6" cy="440.2" r="6.5" fill="url(#sg)"/>
<circle cx="320.4" cy="469.9" r="6.5" fill="url(#sg2)"/>
<circle cx="313.9" cy="477.0" r="6.5" fill="url(#sg1)"/>
<circle cx="307.3" cy="484.1" r="6.5" fill="url(#sg)"/>
<circle cx="351.1" cy="457.2" r="6.5" fill="url(#sg2)"/>
<circle cx="344.6" cy="464.3" r="6.5" fill="url(#sg1)"/>
<circle cx="338.0" cy="471.4" r="6.5" fill="url(#sg)"/>
<circle cx="375.8" cy="471.0" r="6.5" fill="url(#sg2)"/>
<circle cx="369.2" cy="478.1" r="6.5" fill="url(#sg1)"/>
<circle cx="362.7" cy="485.2" r="6.5" fill="url(#sg)"/>
<circle cx="406.5" cy="458.5" r="6.5" fill="url(#sg2)"/>
<circle cx="399.9" cy="465.6" r="6.5" fill="url(#sg1)"/>
<circle cx="393.4" cy="472.7" r="6.5" fill="url(#sg)"/>
<circle cx="317.8" cy="502.7" r="6.5" fill="url(#sg2)"/>
<circle cx="311.2" cy="509.8" r="6.5" fill="url(#sg1)"/>
<circle cx="304.7" cy="516.9" r="6.5" fill="url(#sg)"/>
<circle cx="348.5" cy="489.6" r="6.5" fill="url(#sg2)"/>
<circle cx="341.9" cy="496.7" r="6.5" fill="url(#sg1)"/>
<circle cx="335.4" cy="503.8" r="6.5" fill="url(#sg)"/>
<circle cx="373.0" cy="503.8" r="6.5" fill="url(#sg2)"/>
<circle cx="366.4" cy="510.9" r="6.5" fill="url(#sg1)"/>
<circle cx="359.9" cy="518.0" r="6.5" fill="url(#sg)"/>
<circle cx="403.6" cy="490.6" r="6.5" fill="url(#sg2)"/>
<circle cx="397.1" cy="497.7" r="6.5" fill="url(#sg1)"/>
<circle cx="390.5" cy="504.8" r="6.5" fill="url(#sg)"/>
<line x1="324.9" y1="415.5" x2="430.6" y2="414.8" stroke="#1a1a1a" stroke-width="1.0" stroke-dasharray="2.6,1.8"/>
<line x1="324.9" y1="415.5" x2="317.8" y2="510.8" stroke="#1a1a1a" stroke-width="1.0" stroke-dasharray="2.6,1.8"/>
<line x1="317.8" y1="510.8" x2="421.9" y2="509.2" stroke="#1a1a1a" stroke-width="1.0" stroke-dasharray="2.6,1.8"/>
<line x1="430.6" y1="414.8" x2="421.9" y2="509.2" stroke="#1a1a1a" stroke-width="1.0" stroke-dasharray="2.6,1.8"/>
<line x1="297" y1="431.9" x2="324.9" y2="415.5" stroke="#1a1a1a" stroke-width="1.0" stroke-dasharray="2.6,1.8"/>
<line x1="287.6" y1="525.6" x2="317.8" y2="510.8" stroke="#1a1a1a" stroke-width="1.0" stroke-dasharray="2.6,1.8"/>
<line x1="297" y1="431.9" x2="404.3" y2="430.8" stroke="#1a1a1a" stroke-width="1.0" stroke-dasharray="2.6,1.8"/>
<line x1="297" y1="431.9" x2="287.6" y2="525.6" stroke="#1a1a1a" stroke-width="1.0" stroke-dasharray="2.6,1.8"/>
<line x1="287.6" y1="525.6" x2="395.6" y2="525.2" stroke="#1a1a1a" stroke-width="1.0" stroke-dasharray="2.6,1.8"/>
<line x1="404.3" y1="430.8" x2="395.6" y2="525.2" stroke="#1a1a1a" stroke-width="1.0" stroke-dasharray="2.6,1.8"/>
<line x1="404.3" y1="430.8" x2="430.6" y2="414.8" stroke="#1a1a1a" stroke-width="1.0" stroke-dasharray="2.6,1.8"/>
<line x1="395.6" y1="525.2" x2="421.9" y2="509.2" stroke="#1a1a1a" stroke-width="1.0" stroke-dasharray="2.6,1.8"/>
<circle cx="529.7" cy="425.9" r="6.4" fill="url(#sg2)"/>
<circle cx="536.6" cy="441.5" r="6.4" fill="url(#sg2)"/>
<circle cx="547.9" cy="457.1" r="6.4" fill="url(#sg2)"/>
<circle cx="554.8" cy="472.7" r="6.4" fill="url(#sg2)"/>
<circle cx="565.8" cy="488.3" r="6.4" fill="url(#sg2)"/>
<circle cx="572.6" cy="503.9" r="6.4" fill="url(#sg2)"/>
<circle cx="563.7" cy="426.6" r="6.4" fill="url(#sg2)"/>
<circle cx="570.6" cy="442.2" r="6.4" fill="url(#sg2)"/>
<circle cx="581.9" cy="457.8" r="6.4" fill="url(#sg2)"/>
<circle cx="588.8" cy="473.4" r="6.4" fill="url(#sg2)"/>
<circle cx="599.8" cy="489.0" r="6.4" fill="url(#sg2)"/>
<circle cx="606.6" cy="504.6" r="6.4" fill="url(#sg2)"/>
<circle cx="597.7" cy="427.3" r="6.4" fill="url(#sg2)"/>
<circle cx="604.6" cy="442.9" r="6.4" fill="url(#sg2)"/>
<circle cx="615.9" cy="458.5" r="6.4" fill="url(#sg2)"/>
<circle cx="622.8" cy="474.1" r="6.4" fill="url(#sg2)"/>
<circle cx="633.8" cy="489.7" r="6.4" fill="url(#sg2)"/>
<circle cx="640.6" cy="505.3" r="6.4" fill="url(#sg2)"/>
<circle cx="510.0" cy="435.2" r="6.4" fill="url(#sg)"/>
<circle cx="516.9" cy="450.8" r="6.4" fill="url(#sg)"/>
<circle cx="528.2" cy="466.4" r="6.4" fill="url(#sg)"/>
<circle cx="535.1" cy="482.0" r="6.4" fill="url(#sg)"/>
<circle cx="546.1" cy="497.6" r="6.4" fill="url(#sg)"/>
<circle cx="552.9" cy="513.2" r="6.4" fill="url(#sg)"/>
<circle cx="544.0" cy="435.9" r="6.4" fill="url(#sg)"/>
<circle cx="550.9" cy="451.5" r="6.4" fill="url(#sg)"/>
<circle cx="562.2" cy="467.1" r="6.4" fill="url(#sg)"/>
<circle cx="569.1" cy="482.7" r="6.4" fill="url(#sg)"/>
<circle cx="580.1" cy="498.3" r="6.4" fill="url(#sg)"/>
<circle cx="586.9" cy="513.9" r="6.4" fill="url(#sg)"/>
<circle cx="578.0" cy="436.6" r="6.4" fill="url(#sg)"/>
<circle cx="584.9" cy="452.2" r="6.4" fill="url(#sg)"/>
<circle cx="596.2" cy="467.8" r="6.4" fill="url(#sg)"/>
<circle cx="603.1" cy="483.4" r="6.4" fill="url(#sg)"/>
<circle cx="614.1" cy="499.0" r="6.4" fill="url(#sg)"/>
<circle cx="620.9" cy="514.6" r="6.4" fill="url(#sg)"/>
<line x1="524.0" y1="415.6" x2="625.3" y2="415.6" stroke="#1a1a1a" stroke-width="1.0" stroke-dasharray="2.6,1.8"/>
<line x1="524.0" y1="415.6" x2="578.0999999999999" y2="506.8" stroke="#1a1a1a" stroke-width="1.0" stroke-dasharray="2.6,1.8"/>
<line x1="578.0999999999999" y1="506.8" x2="677.8" y2="506.8" stroke="#1a1a1a" stroke-width="1.0" stroke-dasharray="2.6,1.8"/>
<line x1="625.3" y1="415.6" x2="677.8" y2="506.8" stroke="#1a1a1a" stroke-width="1.0" stroke-dasharray="2.6,1.8"/>
<line x1="487.2" y1="434.3" x2="524.0" y2="415.6" stroke="#1a1a1a" stroke-width="1.0" stroke-dasharray="2.6,1.8"/>
<line x1="541.3" y1="525.5" x2="578.0999999999999" y2="506.8" stroke="#1a1a1a" stroke-width="1.0" stroke-dasharray="2.6,1.8"/>
<line x1="487.2" y1="434.3" x2="588.5" y2="434.3" stroke="#1a1a1a" stroke-width="1.0" stroke-dasharray="2.6,1.8"/>
<line x1="487.2" y1="434.3" x2="541.3" y2="525.5" stroke="#1a1a1a" stroke-width="1.0" stroke-dasharray="2.6,1.8"/>
<line x1="541.3" y1="525.5" x2="641" y2="525.5" stroke="#1a1a1a" stroke-width="1.0" stroke-dasharray="2.6,1.8"/>
<line x1="588.5" y1="434.3" x2="641" y2="525.5" stroke="#1a1a1a" stroke-width="1.0" stroke-dasharray="2.6,1.8"/>
<line x1="588.5" y1="434.3" x2="625.3" y2="415.6" stroke="#1a1a1a" stroke-width="1.0" stroke-dasharray="2.6,1.8"/>
<line x1="641" y1="525.5" x2="677.8" y2="506.8" stroke="#1a1a1a" stroke-width="1.0" stroke-dasharray="2.6,1.8"/>
<circle cx="63.8" cy="546.9" r="8.1" fill="url(#sg)"/>
<circle cx="87.6" cy="546.9" r="8.1" fill="url(#sg)"/>
<circle cx="111.7" cy="546.9" r="8.1" fill="url(#sg)"/>
<circle cx="72.0" cy="569.5" r="8.1" fill="url(#sg)"/>
<circle cx="95.5" cy="569.5" r="8.1" fill="url(#sg)"/>
<circle cx="119.5" cy="569.5" r="8.1" fill="url(#sg)"/>
<circle cx="63.8" cy="592.2" r="8.1" fill="url(#sg)"/>
<circle cx="87.6" cy="592.2" r="8.1" fill="url(#sg)"/>
<circle cx="111.7" cy="592.2" r="8.1" fill="url(#sg)"/>
<circle cx="72.0" cy="615.0" r="8.1" fill="url(#sg)"/>
<circle cx="95.5" cy="615.0" r="8.1" fill="url(#sg)"/>
<circle cx="119.5" cy="615.0" r="8.1" fill="url(#sg)"/>
<line x1="139.2" y1="546.3" x2="180.2" y2="546.3" stroke="#6a6a6a" stroke-width="1.0" stroke-dasharray="3,1.65"/>
<text x="191.2" y="551.0999999999999" font-size="13.6" text-anchor="middle" >A</text>
<line x1="139.2" y1="569.6" x2="180.2" y2="569.6" stroke="#6a6a6a" stroke-width="1.0" stroke-dasharray="3,1.65"/>
<text x="191.2" y="574.4" font-size="13.6" text-anchor="middle" >B</text>
<line x1="139.2" y1="592.3" x2="180.2" y2="592.3" stroke="#6a6a6a" stroke-width="1.0" stroke-dasharray="3,1.65"/>
<text x="191.2" y="597.0999999999999" font-size="13.6" text-anchor="middle" >A</text>
<line x1="139.2" y1="615.3" x2="180.2" y2="615.3" stroke="#6a6a6a" stroke-width="1.0" stroke-dasharray="3,1.65"/>
<text x="191.2" y="620.0999999999999" font-size="13.6" text-anchor="middle" >B</text>
<circle cx="326.1" cy="559.8" r="8.1" fill="url(#sg)"/>
<circle cx="326.1" cy="583.1" r="8.1" fill="url(#sg)"/>
<circle cx="326.1" cy="606.6" r="8.1" fill="url(#sg)"/>
<circle cx="369.8" cy="559.8" r="8.1" fill="url(#sg)"/>
<circle cx="369.8" cy="583.1" r="8.1" fill="url(#sg)"/>
<circle cx="369.8" cy="606.6" r="8.1" fill="url(#sg)"/>
<circle cx="347.8" cy="552.2" r="8.1" fill="url(#sg)"/>
<circle cx="347.8" cy="575.5" r="8.1" fill="url(#sg)"/>
<circle cx="347.8" cy="598.8" r="8.1" fill="url(#sg)"/>
<circle cx="392.4" cy="552.2" r="8.1" fill="url(#sg)"/>
<circle cx="392.4" cy="575.5" r="8.1" fill="url(#sg)"/>
<circle cx="392.4" cy="598.8" r="8.1" fill="url(#sg)"/>
<circle cx="534.0" cy="552.5" r="8.1" fill="url(#sg)"/>
<circle cx="562.5" cy="552.5" r="8.1" fill="url(#sg)"/>
<circle cx="590.0" cy="552.5" r="8.1" fill="url(#sg)"/>
<circle cx="548.8" cy="560.0" r="8.1" fill="url(#sg)"/>
<circle cx="576.2" cy="560.0" r="8.1" fill="url(#sg)"/>
<circle cx="604.4" cy="560.0" r="8.1" fill="url(#sg)"/>
<circle cx="548.8" cy="576.5" r="8.1" fill="url(#sg)"/>
<circle cx="576.2" cy="576.5" r="8.1" fill="url(#sg)"/>
<circle cx="604.4" cy="576.5" r="8.1" fill="url(#sg)"/>
<circle cx="562.5" cy="584.0" r="8.1" fill="url(#sg)"/>
<circle cx="590.0" cy="584.0" r="8.1" fill="url(#sg)"/>
<circle cx="618.1" cy="584.0" r="8.1" fill="url(#sg)"/>
<circle cx="562.5" cy="599.5" r="8.1" fill="url(#sg)"/>
<circle cx="590.0" cy="599.5" r="8.1" fill="url(#sg)"/>
<circle cx="618.1" cy="599.5" r="8.1" fill="url(#sg)"/>
<circle cx="576.2" cy="608.0" r="8.1" fill="url(#sg)"/>
<circle cx="604.4" cy="608.0" r="8.1" fill="url(#sg)"/>
<circle cx="631.8" cy="608.0" r="8.1" fill="url(#sg)"/>
<line x1="18.3" y1="514.3" x2="18.3" y2="497.5" stroke="#000" stroke-width="0.9" />
<path d="M18.3,497.0 L19.9,500.7 L16.7,500.7Z" fill="#000"/>
<line x1="18.3" y1="514.3" x2="39.2" y2="514.1" stroke="#000" stroke-width="0.9" />
<path d="M39.7,514.1 L36.0,515.7 L36.0,512.5Z" fill="#000"/>
<line x1="18.3" y1="514.3" x2="8.6" y2="519" stroke="#000" stroke-width="0.9" />
<path d="M8.2,519.2 L10.8,516.2 L12.2,519.0Z" fill="#000"/>
<text x="18.1" y="495" font-size="7.8" text-anchor="middle" >c</text>
<text x="44.3" y="517.2" font-size="7.8" text-anchor="middle" >b</text>
<text x="4.6" y="523.4" font-size="7.8" text-anchor="middle" >a</text>
<line x1="247.3" y1="516" x2="249" y2="500.2" stroke="#000" stroke-width="0.9" />
<path d="M249.1,499.7 L250.2,503.6 L247.1,503.2Z" fill="#000"/>
<line x1="247.3" y1="516" x2="268.9" y2="516" stroke="#000" stroke-width="0.9" />
<path d="M269.4,516.0 L265.7,517.6 L265.7,514.4Z" fill="#000"/>
<line x1="247.3" y1="516" x2="239" y2="519.3" stroke="#000" stroke-width="0.9" />
<path d="M238.5,519.5 L241.4,516.6 L242.6,519.6Z" fill="#000"/>
<text x="249" y="496.3" font-size="7.8" text-anchor="middle" >a</text>
<text x="273.3" y="518.8" font-size="7.8" text-anchor="middle" >c</text>
<text x="235.2" y="522.6" font-size="7.8" text-anchor="middle" >b</text>
<line x1="477.8" y1="513.2" x2="465.6" y2="498.4" stroke="#000" stroke-width="0.9" />
<path d="M465.3,498.0 L468.9,499.9 L466.4,501.9Z" fill="#000"/>
<line x1="477.8" y1="513.2" x2="497.5" y2="513.2" stroke="#000" stroke-width="0.9" />
<path d="M498.0,513.2 L494.3,514.8 L494.3,511.6Z" fill="#000"/>
<line x1="477.8" y1="513.2" x2="470.6" y2="519.2" stroke="#000" stroke-width="0.9" />
<path d="M470.2,519.5 L472.0,515.9 L474.1,518.4Z" fill="#000"/>
<text x="462.9" y="496.5" font-size="7.8" text-anchor="middle" >b</text>
<text x="501.8" y="516" font-size="7.8" text-anchor="middle" >a</text>
<text x="467.3" y="524.4" font-size="7.8" text-anchor="middle" >c</text>
<line x1="8.8" y1="617.9" x2="8.8" y2="596.8" stroke="#000" stroke-width="1.1" />
<path d="M8.8,596.3 L10.4,600.0 L7.2,600.0Z" fill="#000"/>
<line x1="8.8" y1="617.9" x2="35.6" y2="617.9" stroke="#000" stroke-width="1.1" />
<path d="M36.1,617.9 L32.4,619.5 L32.4,616.3Z" fill="#000"/>
<text x="8.4" y="593.4" font-size="10" text-anchor="middle" >c</text>
<text x="41.7" y="621.3" font-size="10" text-anchor="middle" >b</text>
<line x1="237.8" y1="618" x2="237.8" y2="596.3" stroke="#000" stroke-width="1.1" />
<path d="M237.8,595.8 L239.4,599.5 L236.2,599.5Z" fill="#000"/>
<line x1="237.8" y1="618" x2="265" y2="618" stroke="#000" stroke-width="1.1" />
<path d="M265.5,618.0 L261.8,619.6 L261.8,616.4Z" fill="#000"/>
<text x="237.6" y="593.2" font-size="10" text-anchor="middle" >a</text>
<text x="271" y="621.4" font-size="10" text-anchor="middle" >c</text>
<line x1="476" y1="618.3" x2="458.3" y2="595.9" stroke="#000" stroke-width="1.1" />
<path d="M458.0,595.5 L461.5,597.4 L459.0,599.4Z" fill="#000"/>
<line x1="476" y1="618.3" x2="504.5" y2="618.3" stroke="#000" stroke-width="1.1" />
<path d="M505.0,618.3 L501.3,619.9 L501.3,616.7Z" fill="#000"/>
<text x="454.6" y="593.8" font-size="10" text-anchor="middle" >b</text>
<text x="510.6" y="621" font-size="10" text-anchor="middle" >a</text></svg></body></html>
